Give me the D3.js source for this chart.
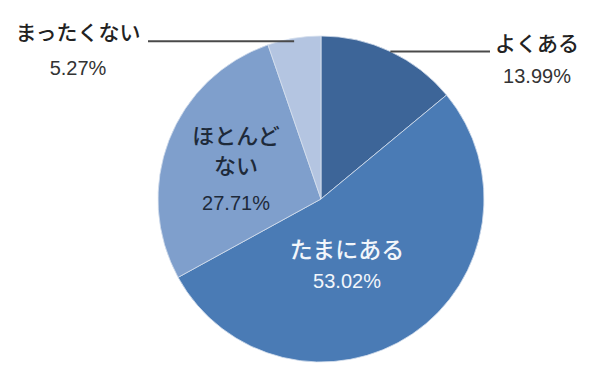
<!DOCTYPE html>
<html lang="ja">
  <head>
    <meta charset="UTF-8" />
    <title>Pie</title>
    <style>
      body { margin: 0; padding: 0; background: #fff; }
      svg { display: block; }
      text { font-family: "Noto Sans CJK JP", sans-serif; font-weight: 500; }
      .pct { font-family: "Liberation Sans", Arial, sans-serif; font-weight: normal; }
    </style>
  </head>
  <body>
    <script src="https://cdn.jsdelivr.net/npm/d3@7"></script>
    <script>
      const categories = ['よくある', 'たまにある', 'ほとんどない', 'まったくない'];
      const values = [13.99, 53.02, 27.71, 5.27];
      const colors = ['#3d6598', '#4a7bb5', '#7f9fcc', '#b4c5e1'];

      const width = 600;
      const height = 378;
      const cx = 321;
      const cy = 199;
      const radius = 163;

      const svg = d3.select('body').append('svg').attr('width', width).attr('height', height);
      const g = svg.append('g').attr('transform', `translate(${cx},${cy})`);

      const data = categories.map((c, i) => ({ name: c, value: values[i], color: colors[i] }));
      const pie = d3.pie().sort(null).value((d) => d.value);
      const arcs = pie(data);
      const arc = d3.arc().innerRadius(0).outerRadius(radius);
      const edge = d3.arc().innerRadius(radius).outerRadius(radius);

      g.selectAll('path')
        .data(arcs)
        .enter()
        .append('path')
        .attr('d', arc)
        .attr('fill', (d) => d.data.color)
        .attr('stroke', '#d6e0ee')
        .attr('stroke-width', 0.8);

      // outside labels with horizontal leader lines
      const outside = [
        { i: 0, lineTo: 490, tx: 537, ty: 51, py: 83 },
        { i: 3, lineTo: 148, tx: 78, ty: 40, py: 75 }
      ];
      outside.forEach((o) => {
        const a = arcs[o.i];
        const p = edge.centroid(a);
        const ly = o.i === 0 ? p[1] : p[1] + 3;
        g.append('line')
          .attr('x1', p[0])
          .attr('y1', ly)
          .attr('x2', o.lineTo - cx)
          .attr('y2', ly)
          .attr('stroke', '#4a4a4a')
          .attr('stroke-width', 1.8);
        svg.append('text')
          .attr('x', o.tx).attr('y', o.ty)
          .attr('text-anchor', 'middle')
          .attr('font-size', 21)
          .attr('fill', '#222')
          .text(a.data.name);
        svg.append('text')
          .attr('class', 'pct')
          .attr('x', o.tx).attr('y', o.py)
          .attr('text-anchor', 'middle')
          .attr('font-size', 20)
          .attr('fill', '#333')
          .text(a.data.value.toFixed(2) + '%');
      });

      // inside labels
      const inside = [
        { i: 1, lines: ['たまにある'], x: 347, ys: [258], py: 288, fill: '#f2f6fb' },
        { i: 2, lines: ['ほとんど', 'ない'], x: 236, ys: [144, 174], py: 210, fill: '#1e2a3a' }
      ];
      inside.forEach((o) => {
        const a = arcs[o.i];
        o.lines.forEach((t, k) => {
          svg.append('text')
            .attr('x', o.x).attr('y', o.ys[k])
            .attr('text-anchor', 'middle')
            .attr('font-size', o.i === 1 ? 23 : 22)
            .attr('fill', o.fill)
            .text(t);
        });
        svg.append('text')
          .attr('class', 'pct')
          .attr('x', o.x).attr('y', o.py)
          .attr('text-anchor', 'middle')
          .attr('font-size', 20)
          .attr('fill', o.fill)
          .text(a.data.value.toFixed(2) + '%');
      });
    </script>
  </body>
</html>
